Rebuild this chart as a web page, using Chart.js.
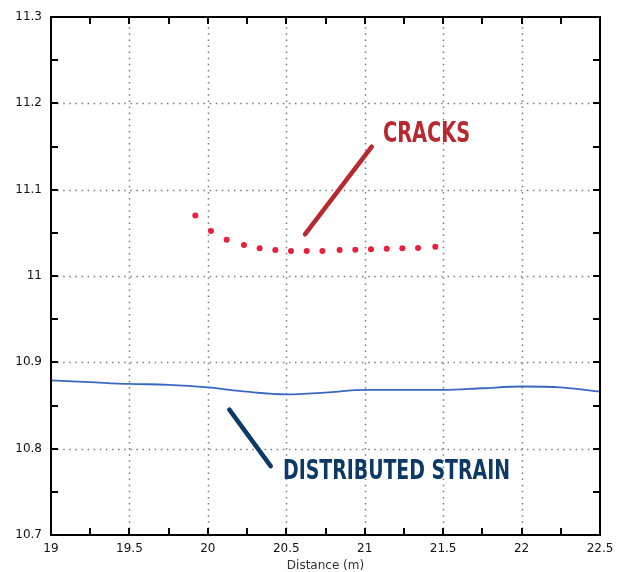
<!DOCTYPE html>
<html lang="en">
  <head>
    <meta charset="UTF-8" />
    <title>Cracks vs distributed strain</title>
    <script src="https://cdn.jsdelivr.net/npm/chart.js"></script>
    <style>
      body {
        margin: 0;
        background: #fff;
      }
      #wrap {
        width: 618px;
        height: 572px;
      }
    </style>
  </head>
  <body>
    <div id="wrap"><canvas id="chart" width="618" height="572"></canvas></div>

    <script>
      // crack measurements (dots)
      const crackX = [19.92, 20.02, 20.12, 20.23, 20.33, 20.43, 20.53, 20.63,
        20.73, 20.84, 20.94, 21.04, 21.14, 21.24, 21.34, 21.45];
      const crackY = [11.07, 11.052, 11.042, 11.036, 11.032, 11.03, 11.029, 11.029,
        11.029, 11.03, 11.0305, 11.031, 11.0316, 11.032, 11.0324, 11.034];

      // distributed strain (line)
      const strainX = [19, 19.25, 19.5, 19.75, 20, 20.25, 20.5, 20.75,
        21, 21.25, 21.5, 21.75, 22, 22.25, 22.5];
      const strainY = [10.879, 10.877, 10.875, 10.874, 10.871, 10.866, 10.863, 10.865,
        10.868, 10.868, 10.868, 10.87, 10.872, 10.871, 10.866];

      const xTicks = [19, 19.5, 20, 20.5, 21, 21.5, 22, 22.5];
      const yTicks = [10.7, 10.8, 10.9, 11, 11.1, 11.2, 11.3];
      const xMinor = [19.25, 19.75, 20.25, 20.75, 21.25, 21.75, 22.25];
      const yMinor = [10.75, 10.85, 10.95, 11.05, 11.15, 11.25];

      // callout lines, in data units: [x1, y1, x2, y2]
      const crackPointer = [20.619, 11.0483, 21.045, 11.1498];
      const strainPointer = [20.137, 10.8452, 20.4006, 10.7798];
      const crackLabel = { text: "CRACKS", x: 21.117, y: 11.155 };
      const strainLabel = { text: "DISTRIBUTED STRAIN", x: 20.479, y: 10.7644 };

      const fmt = (v) => String(Math.round(v * 100) / 100);

      const decor = {
        id: "decor",
        beforeDatasetsDraw(chart) {
          const { ctx, chartArea: a, scales } = chart;
          ctx.save();
          ctx.strokeStyle = "#7a7a7a";
          ctx.lineWidth = 1.5;
          ctx.setLineDash([1.5, 4.6]);
          xTicks.slice(1, -1).forEach((v) => {
            const x = Math.round(scales.x.getPixelForValue(v)) + 0.5;
            ctx.beginPath();
            ctx.moveTo(x, a.bottom);
            ctx.lineTo(x, a.top);
            ctx.stroke();
          });
          yTicks.slice(1, -1).forEach((v) => {
            const y = Math.round(scales.y.getPixelForValue(v)) + 0.5;
            ctx.beginPath();
            ctx.moveTo(a.left, y);
            ctx.lineTo(a.right, y);
            ctx.stroke();
          });
          ctx.restore();
        },
        afterDatasetsDraw(chart) {
          const { ctx, chartArea: a, scales } = chart;
          const px = (v) => scales.x.getPixelForValue(v);
          const py = (v) => scales.y.getPixelForValue(v);
          ctx.save();
          // frame
          ctx.strokeStyle = "#000";
          ctx.lineWidth = 2;
          ctx.strokeRect(a.left, a.top, a.right - a.left, a.bottom - a.top);
          // inward ticks on all four sides
          const len = 7;
          ctx.beginPath();
          xTicks.concat(xMinor).forEach((v) => {
            const x = Math.round(px(v));
            ctx.moveTo(x, a.bottom);
            ctx.lineTo(x, a.bottom - len);
            ctx.moveTo(x, a.top);
            ctx.lineTo(x, a.top + len);
          });
          yTicks.concat(yMinor).forEach((v) => {
            const y = Math.round(py(v));
            ctx.moveTo(a.left, y);
            ctx.lineTo(a.left + len, y);
            ctx.moveTo(a.right, y);
            ctx.lineTo(a.right - len, y);
          });
          ctx.stroke();

          // callouts
          ctx.lineCap = "round";
          ctx.lineWidth = 4.5;
          ctx.strokeStyle = "#b8282f";
          ctx.beginPath();
          ctx.moveTo(px(crackPointer[0]), py(crackPointer[1]));
          ctx.lineTo(px(crackPointer[2]), py(crackPointer[3]));
          ctx.stroke();
          ctx.strokeStyle = "#0c3966";
          ctx.beginPath();
          ctx.moveTo(px(strainPointer[0]), py(strainPointer[1]));
          ctx.lineTo(px(strainPointer[2]), py(strainPointer[3]));
          ctx.stroke();

          const label = (lb, color, size, width) => {
            ctx.save();
            ctx.font = "bold " + size + "px 'Liberation Sans Narrow', 'DejaVu Sans Condensed', 'Liberation Sans', sans-serif";
            ctx.fillStyle = color;
            ctx.textBaseline = "alphabetic";
            const w = ctx.measureText(lb.text).width;
            ctx.translate(px(lb.x), py(lb.y));
            ctx.scale(width / w, 1);
            ctx.fillText(lb.text, 0, 0);
            ctx.restore();
          };
          label(crackLabel, "#b8282f", 27.5, 87);
          label(strainLabel, "#0c3966", 26, 227);

          // axis title
          ctx.font = "12px 'DejaVu Sans', Verdana, sans-serif";
          ctx.fillStyle = "#333";
          ctx.textAlign = "center";
          ctx.textBaseline = "middle";
          ctx.fillText("Distance (m)", (a.left + a.right) / 2, 566);
          ctx.restore();
        },
      };

      new Chart(document.getElementById("chart"), {
        type: "scatter",
        data: {
          datasets: [
            {
              label: "Cracks",
              data: crackX.map((x, i) => ({ x, y: crackY[i] })),
              pointRadius: 3,
              pointBackgroundColor: "#e8203a",
              pointBorderWidth: 0,
              showLine: false,
            },
            {
              label: "Distributed strain",
              data: strainX.map((x, i) => ({ x, y: strainY[i] })),
              showLine: true,
              borderColor: "#3a68c0",
              borderWidth: 1.8,
              pointRadius: 0,
              cubicInterpolationMode: "monotone",
            },
          ],
        },
        options: {
          responsive: false,
          animation: false,
          layout: { padding: { top: 17, right: 18, left: 0, bottom: 0 } },
          plugins: { legend: { display: false }, tooltip: { enabled: false } },
          scales: {
            x: {
              type: "linear",
              min: 19,
              max: 22.5,
              afterBuildTicks: (s) => {
                s.ticks = xTicks.map((value) => ({ value }));
              },
              afterFit: (s) => {
                s.height = 37;
                s.paddingLeft = 0;
                s.paddingRight = 0;
              },
              grid: { display: false, drawTicks: false },
              border: { display: false },
              ticks: {
                padding: 7,
                color: "#111",
                font: { family: "'DejaVu Sans', Verdana, sans-serif", size: 12 },
                maxRotation: 0,
                callback: fmt,
              },
            },
            y: {
              min: 10.7,
              max: 11.3,
              afterBuildTicks: (s) => {
                s.ticks = yTicks.map((value) => ({ value }));
              },
              afterFit: (s) => {
                s.width = 51;
                s.paddingTop = 0;
                s.paddingBottom = 0;
              },
              grid: { display: false, drawTicks: false },
              border: { display: false },
              ticks: {
                padding: 9,
                color: "#111",
                font: { family: "'DejaVu Sans', Verdana, sans-serif", size: 12 },
                callback: fmt,
              },
            },
          },
        },
        plugins: [decor],
      });
    </script>
  </body>
</html>
